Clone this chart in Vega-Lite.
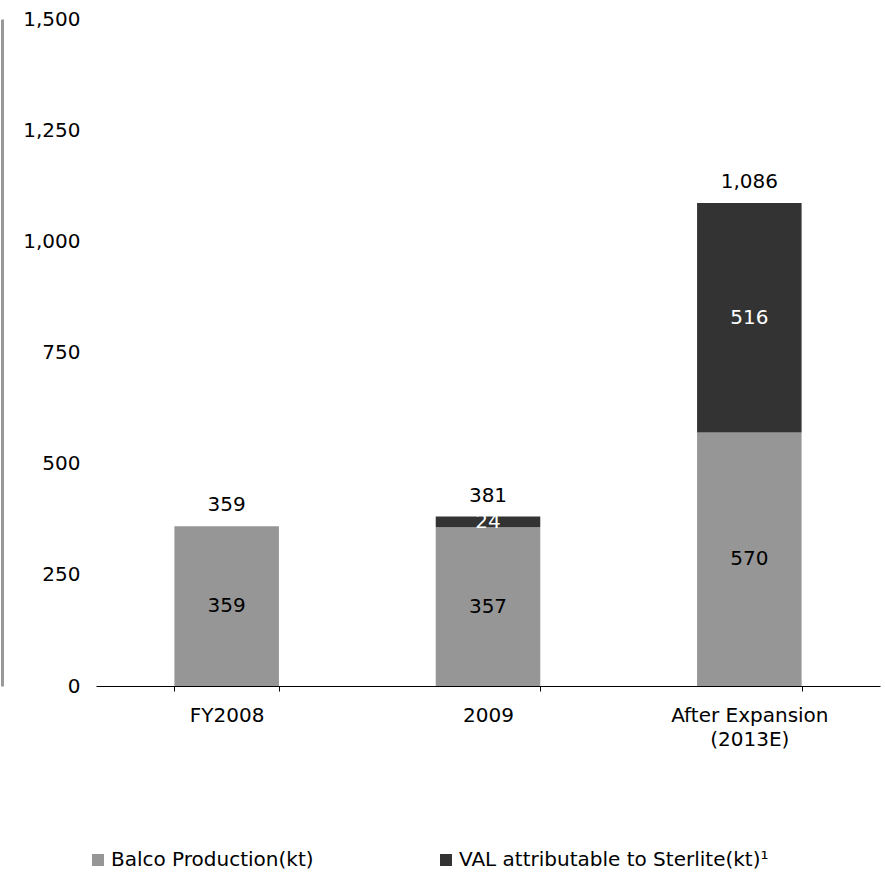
{
  "$schema": "https://vega.github.io/schema/vega-lite/v6.json",
  "width": 784,
  "height": 667,
  "autosize": "none",
  "padding": {"left": 96, "top": 19, "right": 5, "bottom": 187},
  "background": "white",
  "config": {
    "view": {"stroke": null},
    "font": "DejaVu Sans",
    "axis": {"labelFont": "DejaVu Sans", "labelFontSize": 20, "labelColor": "#000000", "grid": false}
  },
  "data": {
    "values": [
      {"cat": "FY2008", "series": "Balco Production(kt)", "value": 359},
      {"cat": "2009", "series": "Balco Production(kt)", "value": 357},
      {"cat": "2009", "series": "VAL attributable to Sterlite(kt)¹", "value": 24},
      {"cat": "After Expansion (2013E)", "series": "Balco Production(kt)", "value": 570},
      {"cat": "After Expansion (2013E)", "series": "VAL attributable to Sterlite(kt)¹", "value": 516}
    ]
  },
  "encoding": {
    "x": {
      "field": "cat",
      "type": "nominal",
      "sort": ["FY2008", "2009", "After Expansion (2013E)"],
      "title": null,
      "scale": {"paddingInner": 0.6, "paddingOuter": 0.3},
      "axis": {
        "labelAngle": 0,
        "domainColor": "#000000",
        "domainWidth": 1,
        "ticks": true,
        "tickBand": "extent",
        "tickSize": 5,
        "tickColor": "#000000",
        "labelPadding": 14,
        "labelLineHeight": 24,
        "labelExpr": "datum.value == 'After Expansion (2013E)' ? ['After Expansion', '(2013E)'] : datum.label"
      }
    }
  },
  "layer": [
    {
      "mark": {"type": "bar"},
      "encoding": {
        "y": {
          "field": "value",
          "type": "quantitative",
          "stack": "zero",
          "title": null,
          "scale": {"domain": [0, 1500], "nice": false},
          "axis": {
            "values": [0, 250, 500, 750, 1000, 1250, 1500],
            "format": ",",
            "labelExpr": "format(datum.value, ',')",
            "ticks": false,
            "tickSize": 0,
            "domain": true,
            "domainColor": "#999999",
            "domainWidth": 3,
            "offset": 94,
            "labelPadding": -78
          }
        },
        "color": {
          "field": "series",
          "type": "nominal",
          "scale": {
            "domain": ["Balco Production(kt)", "VAL attributable to Sterlite(kt)¹"],
            "range": ["#969696", "#333333"]
          },
          "legend": {
            "title": null,
            "orient": "none",
            "legendX": -8,
            "legendY": 831,
            "direction": "horizontal",
            "symbolType": "square",
            "symbolSize": 144,
            "symbolStrokeWidth": 0,
            "labelFontSize": 20,
            "labelFont": "DejaVu Sans",
            "labelColor": "#000000",
            "labelOffset": 3,
            "columnPadding": 122,
            "labelLimit": 600
          }
        },
        "order": {"field": "series", "sort": "ascending"}
      }
    },
    {
      "transform": [
        {"stack": "value", "groupby": ["cat"], "sort": [{"field": "series", "order": "ascending"}], "as": ["v0", "v1"]},
        {"calculate": "(datum.v0 + datum.v1) / 2", "as": "mid"}
      ],
      "mark": {"type": "text", "fontSize": 20, "font": "DejaVu Sans", "baseline": "middle"},
      "encoding": {
        "y": {
          "field": "mid",
          "type": "quantitative",
          "title": null,
          "scale": {"domain": [0, 1500], "nice": false},
          "axis": {
            "values": [0, 250, 500, 750, 1000, 1250, 1500],
            "format": ",",
            "labelExpr": "format(datum.value, ',')",
            "ticks": false,
            "tickSize": 0,
            "domain": true,
            "domainColor": "#999999",
            "domainWidth": 3,
            "offset": 94,
            "labelPadding": -78
          }
        },
        "text": {"field": "value", "type": "quantitative", "format": ","},
        "color": {
          "condition": {"test": "datum.series != 'Balco Production(kt)'", "value": "#ffffff"},
          "value": "#000000"
        }
      }
    },
    {
      "transform": [
        {"aggregate": [{"op": "sum", "field": "value", "as": "total"}], "groupby": ["cat"]}
      ],
      "mark": {"type": "text", "fontSize": 20, "font": "DejaVu Sans", "baseline": "bottom", "dy": -11, "color": "#000000"},
      "encoding": {
        "y": {
          "field": "total",
          "type": "quantitative",
          "title": null,
          "scale": {"domain": [0, 1500], "nice": false},
          "axis": {
            "values": [0, 250, 500, 750, 1000, 1250, 1500],
            "format": ",",
            "labelExpr": "format(datum.value, ',')",
            "ticks": false,
            "tickSize": 0,
            "domain": true,
            "domainColor": "#999999",
            "domainWidth": 3,
            "offset": 94,
            "labelPadding": -78
          }
        },
        "text": {"field": "total", "type": "quantitative", "format": ","}
      }
    }
  ]
}
